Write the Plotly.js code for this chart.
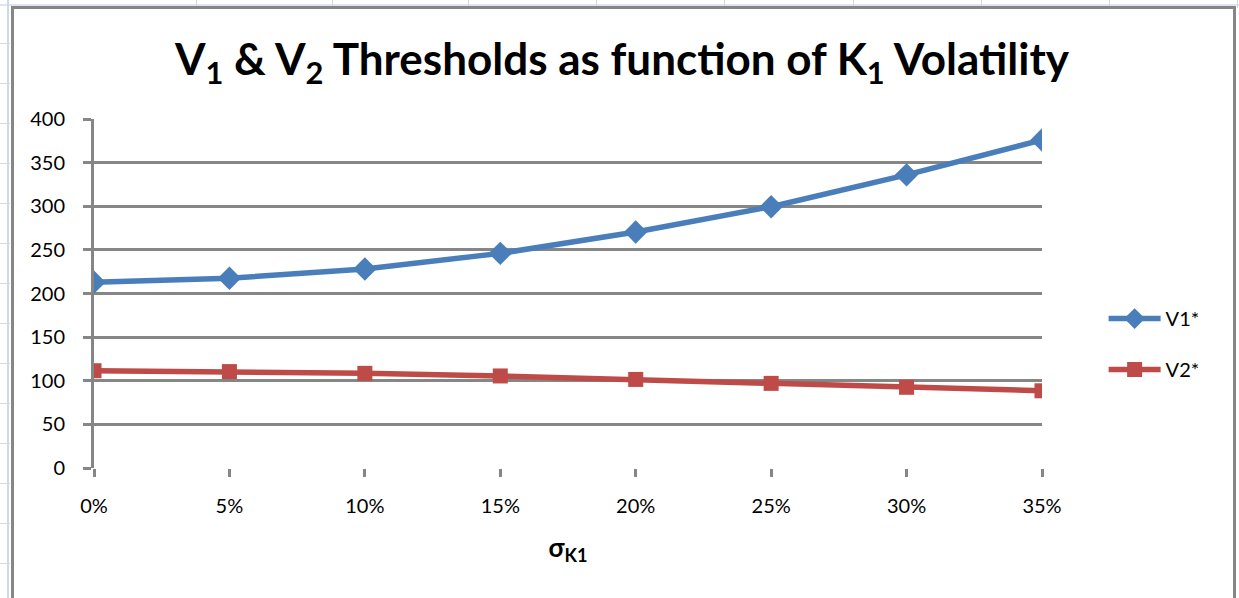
<!DOCTYPE html>
<html>
<head>
<meta charset="utf-8">
<script src="https://cdn.plot.ly/plotly-3.0.1.min.js"></script>
<style>
  html, body { margin: 0; padding: 0; background: #ffffff; }
  #sheet { position: absolute; left: 0; top: 0; width: 1239px; height: 598px; overflow: hidden; background: #ffffff; }
  .col { position: absolute; top: 0; width: 1px; height: 8px; background: #d0d7e5; }
  .row { position: absolute; left: 0; width: 10px; height: 1px; background: #d0d7e5; }
  #edge { position: absolute; left: 7px; top: 0; width: 2px; height: 598px; background: #d0d7e5; }
  #topedge { position: absolute; left: 0; top: 4px; width: 1239px; height: 2px; background: #dfe4ee; }
  #frame { position: absolute; left: 11px; top: 6px; width: 1219px; height: 620px;
           border: 3px solid #868686; background: #ffffff; }
  #chart { position: absolute; left: 0; top: 0; width: 1239px; height: 598px; }
</style>
</head>
<body>
<div id="sheet">
  <div id="topedge"></div>
  <div id="edge"></div>
  <div id="frame"></div>
  <div id="chart"></div>
</div>
<script>
// Volatility levels on the x axis
var categories = ["0%", "5%", "10%", "15%", "20%", "25%", "30%", "35%"];
// Threshold values
var v1Values = [213, 217.5, 228, 246, 270.5, 299.5, 336, 376];
var v2Values = [111.5, 110.5, 108.5, 105.5, 101.5, 97, 92.5, 88.5];
var seriesNames = ["V1*", "V2*"];
var yTickValues = [0, 50, 100, 150, 200, 250, 300, 350, 400];

// worksheet cell lines around the chart object
(function () {
  var sheet = document.getElementById('sheet');
  var frame = document.getElementById('frame');
  [196, 332, 468, 596, 724, 853, 981, 1109, 1237].forEach(function (x) {
    var d = document.createElement('div');
    d.className = 'col'; d.style.left = x + 'px';
    sheet.insertBefore(d, frame);
  });
  for (var y = 43; y < 598; y += 40) {
    var r = document.createElement('div');
    r.className = 'row'; r.style.top = y + 'px';
    sheet.insertBefore(r, frame);
  }
})();

var font = "Lato, 'Open Sans', 'Liberation Sans', sans-serif";

var traces = [
  {
    x: categories, y: v1Values, name: seriesNames[0], type: 'scatter', mode: 'lines+markers',
    line: { color: '#4a7ebb', width: 5.5 },
    marker: { symbol: 'diamond', size: 18, color: '#4a7ebb' },
    legendgroup: 'a'
  },
  {
    x: categories, y: v2Values, name: seriesNames[1], type: 'scatter', mode: 'lines+markers',
    line: { color: '#be4b48', width: 5.5 },
    marker: { symbol: 'square', size: 15, color: '#be4b48' },
    legendgroup: 'b'
  }
];

var layout = {
  width: 1239, height: 598,
  paper_bgcolor: 'rgba(0,0,0,0)', plot_bgcolor: 'rgba(0,0,0,0)',
  margin: { l: 94, r: 197, t: 119, b: 130 },
  font: { family: font, color: '#000000', size: 19 },
  title: {
    text: '<b>V<sub>1</sub> & V<sub>2</sub> Thresholds as function of K<sub>1</sub> Volatility</b>',
    font: { family: font, size: 44, color: '#000000' },
    x: 0.502, xanchor: 'center', y: 0.9, yanchor: 'middle', yref: 'container'
  },
  xaxis: {
    type: 'category', range: [0, 7],
    showgrid: false, zeroline: false,
    showline: false,
    ticks: 'outside', ticklen: 8, tickwidth: 3, tickcolor: '#868686',
    ticklabelstandoff: 12,
    tickfont: { family: font, size: 20, color: '#000000' },
    title: { text: '<b>σ<sub>K1</sub></b>', font: { family: font, size: 26, color: '#000000' }, standoff: 22 }
  },
  yaxis: {
    range: [0, 400], tickvals: yTickValues, ticktext: yTickValues.map(String),
    showgrid: true, gridcolor: '#868686', gridwidth: 3,
    zeroline: false,
    showline: true, linecolor: '#868686', linewidth: 3,
    ticks: 'outside', ticklen: 8, tickwidth: 3, tickcolor: '#868686',
    ticklabelstandoff: 14,
    tickfont: { family: font, size: 20, color: '#000000' }
  },
  legend: {
    x: 1.065, xanchor: 'left', y: 0.355, yanchor: 'middle',
    traceorder: 'grouped', tracegroupgap: 22,
    font: { family: font, size: 20, color: '#000000' },
    itemwidth: 52, bgcolor: 'rgba(0,0,0,0)'
  },
  showlegend: true
};

Plotly.newPlot('chart', traces, layout, { displayModeBar: false, staticPlot: true });
</script>
</body>
</html>
